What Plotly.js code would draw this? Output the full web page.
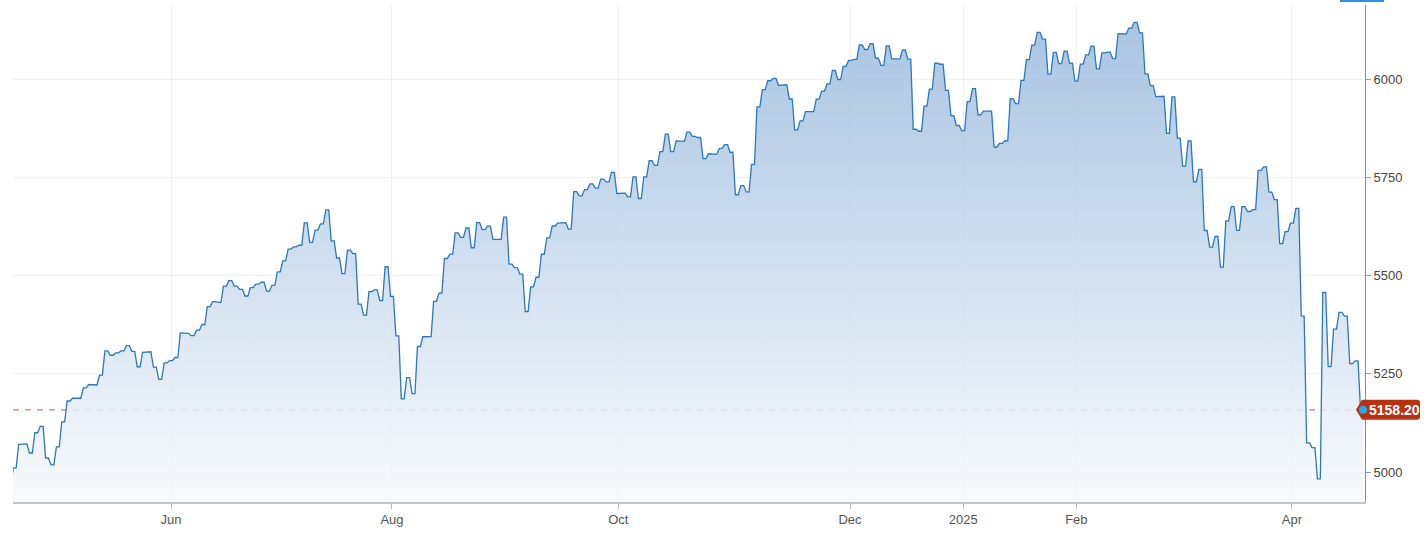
<!DOCTYPE html>
<html><head><meta charset="utf-8">
<script src="https://cdn.plot.ly/plotly-3.0.1.min.js"></script>
<style>html,body{margin:0;padding:0;background:#fff;}#chart{width:1426px;height:540px;}</style>
</head><body><div id="chart"></div>
<script>
// Trading days (S&P 500 daily closes)
const dates = [
"2024-04-19","2024-04-22","2024-04-23","2024-04-24","2024-04-25","2024-04-26","2024-04-29","2024-04-30",
"2024-05-01","2024-05-02","2024-05-03","2024-05-06","2024-05-07","2024-05-08","2024-05-09","2024-05-10","2024-05-13","2024-05-14","2024-05-15","2024-05-16","2024-05-17","2024-05-20","2024-05-21","2024-05-22","2024-05-23","2024-05-24","2024-05-28","2024-05-29","2024-05-30","2024-05-31",
"2024-06-03","2024-06-04","2024-06-05","2024-06-06","2024-06-07","2024-06-10","2024-06-11","2024-06-12","2024-06-13","2024-06-14","2024-06-17","2024-06-18","2024-06-20","2024-06-21","2024-06-24","2024-06-25","2024-06-26","2024-06-27","2024-06-28",
"2024-07-01","2024-07-02","2024-07-03","2024-07-05","2024-07-08","2024-07-09","2024-07-10","2024-07-11","2024-07-12","2024-07-15","2024-07-16","2024-07-17","2024-07-18","2024-07-19","2024-07-22","2024-07-23","2024-07-24","2024-07-25","2024-07-26","2024-07-29","2024-07-30","2024-07-31",
"2024-08-01","2024-08-02","2024-08-05","2024-08-06","2024-08-07","2024-08-08","2024-08-09","2024-08-12","2024-08-13","2024-08-14","2024-08-15","2024-08-16","2024-08-19","2024-08-20","2024-08-21","2024-08-22","2024-08-23","2024-08-26","2024-08-27","2024-08-28","2024-08-29","2024-08-30",
"2024-09-03","2024-09-04","2024-09-05","2024-09-06","2024-09-09","2024-09-10","2024-09-11","2024-09-12","2024-09-13","2024-09-16","2024-09-17","2024-09-18","2024-09-19","2024-09-20","2024-09-23","2024-09-24","2024-09-25","2024-09-26","2024-09-27","2024-09-30",
"2024-10-01","2024-10-02","2024-10-03","2024-10-04","2024-10-07","2024-10-08","2024-10-09","2024-10-10","2024-10-11","2024-10-14","2024-10-15","2024-10-16","2024-10-17","2024-10-18","2024-10-21","2024-10-22","2024-10-23","2024-10-24","2024-10-25","2024-10-28","2024-10-29","2024-10-30","2024-10-31",
"2024-11-01","2024-11-04","2024-11-05","2024-11-06","2024-11-07","2024-11-08","2024-11-11","2024-11-12","2024-11-13","2024-11-14","2024-11-15","2024-11-18","2024-11-19","2024-11-20","2024-11-21","2024-11-22","2024-11-25","2024-11-26","2024-11-27","2024-11-29",
"2024-12-02","2024-12-03","2024-12-04","2024-12-05","2024-12-06","2024-12-09","2024-12-10","2024-12-11","2024-12-12","2024-12-13","2024-12-16","2024-12-17","2024-12-18","2024-12-19","2024-12-20","2024-12-23","2024-12-24","2024-12-26","2024-12-27","2024-12-30","2024-12-31",
"2025-01-02","2025-01-03","2025-01-06","2025-01-07","2025-01-08","2025-01-09","2025-01-10","2025-01-13","2025-01-14","2025-01-15","2025-01-16","2025-01-17","2025-01-21","2025-01-22","2025-01-23","2025-01-24","2025-01-27","2025-01-28","2025-01-29","2025-01-30","2025-01-31",
"2025-02-03","2025-02-04","2025-02-05","2025-02-06","2025-02-07","2025-02-10","2025-02-11","2025-02-12","2025-02-13","2025-02-14","2025-02-18","2025-02-19","2025-02-20","2025-02-21","2025-02-24","2025-02-25","2025-02-26","2025-02-27","2025-02-28",
"2025-03-03","2025-03-04","2025-03-05","2025-03-06","2025-03-07","2025-03-10","2025-03-11","2025-03-12","2025-03-13","2025-03-14","2025-03-17","2025-03-18","2025-03-19","2025-03-20","2025-03-21","2025-03-24","2025-03-25","2025-03-26","2025-03-27","2025-03-28","2025-03-31",
"2025-04-01","2025-04-02","2025-04-03","2025-04-04","2025-04-07","2025-04-08","2025-04-09","2025-04-10","2025-04-11","2025-04-14","2025-04-15","2025-04-16","2025-04-17","2025-04-21"
];
const closes = [
4967.23,5010.60,5070.55,5071.63,5048.42,5099.96,5116.17,5035.69,
5018.39,5064.20,5127.79,5180.74,5187.70,5187.67,5214.08,5222.68,5221.42,5246.68,5308.15,5297.10,5303.27,5308.13,5321.41,5307.01,5267.84,5304.72,5306.04,5266.95,5235.48,5277.51,
5283.40,5291.34,5354.03,5352.96,5346.99,5360.79,5375.32,5421.03,5433.74,5431.60,5473.23,5487.03,5473.17,5464.62,5447.87,5469.30,5477.90,5482.87,5460.48,
5475.09,5509.01,5537.02,5567.19,5572.85,5576.98,5633.91,5584.54,5615.35,5631.22,5667.20,5588.27,5544.59,5505.00,5564.41,5555.74,5427.13,5399.22,5459.10,5463.54,5436.44,5522.30,
5446.68,5346.56,5186.33,5240.03,5199.50,5319.31,5344.16,5344.39,5434.43,5455.21,5543.22,5554.25,5608.25,5597.12,5620.85,5570.64,5634.61,5616.84,5625.80,5592.18,5591.96,5648.40,
5528.93,5520.07,5503.41,5408.42,5471.05,5495.52,5554.13,5595.76,5626.02,5633.09,5634.58,5618.26,5713.64,5702.55,5718.57,5732.93,5722.26,5745.37,5738.17,5762.48,
5708.75,5709.54,5699.94,5751.07,5695.94,5751.13,5792.04,5780.05,5815.03,5859.85,5815.26,5842.47,5841.47,5864.67,5853.98,5851.20,5797.42,5809.86,5808.12,5823.52,5832.92,5813.67,5705.45,
5728.80,5712.69,5782.76,5929.04,5973.10,5995.54,6001.35,5983.99,5985.38,5949.17,5870.62,5893.62,5916.98,5917.11,5948.71,5969.34,5987.37,6021.63,5998.74,6032.38,
6047.15,6049.88,6086.49,6075.11,6090.27,6052.85,6034.91,6084.19,6051.25,6051.09,6074.08,6050.61,5872.16,5867.08,5930.85,5974.07,6040.04,6037.59,5970.84,5906.94,5881.63,
5868.55,5942.47,5975.38,5909.03,5918.25,5918.25,5827.04,5836.22,5842.91,5949.91,5937.34,5996.66,6049.24,6086.37,6118.71,6101.24,6012.28,6067.70,6039.31,6071.17,6040.53,
5994.57,6037.88,6061.48,6083.57,6025.99,6066.44,6068.50,6051.97,6115.07,6114.63,6129.58,6144.15,6117.52,6013.13,5983.25,5955.25,5956.06,5861.57,5954.50,
5849.72,5778.15,5842.63,5738.52,5770.20,5614.56,5572.07,5599.30,5521.52,5638.94,5675.12,5614.66,5675.29,5662.89,5667.56,5767.57,5776.65,5712.20,5693.31,5580.94,5611.85,
5633.07,5670.97,5396.52,5074.08,5062.25,4982.77,5456.90,5268.05,5363.36,5405.97,5396.63,5275.70,5282.70,5158.20
];
const tickMonths = ["2024-06","2024-08","2024-10","2024-12","2025-01","2025-02","2025-04"];
const tickLabels = ["Jun","Aug","Oct","Dec","2025","Feb","Apr"];
const yTicks = [5000,5250,5500,5750,6000];
const lastLabel = "5158.20";

const FONT = "Liberation Sans, Arial, sans-serif";
const H = 0.27; // half-width of each day's flat step
const xs = [], ys = [];
closes.forEach((v, i) => { xs.push(i - H, i + H); ys.push(v, v); });
const tickvals = tickMonths.map(m => dates.findIndex(d => d.startsWith(m)));
const n = closes.length;
const last = closes[n - 1];
const xRange = [0.68, n - 1 + 0.56];
const yRange = [4923.7, 6188.3];
const lastPaperY = (last - yRange[0]) / (yRange[1] - yRange[0]);
const TAG = '#b9320f';

const traces = [
  {
    x: xs, y: ys, type: 'scatter', mode: 'lines',
    line: {color: '#2a78bd', width: 1.3},
    fill: 'tozeroy',
    fillgradient: {type: 'vertical', start: yRange[0], stop: yRange[1],
      colorscale: [[0, 'rgba(246,249,252,0.85)'], [1, 'rgba(150,184,220,0.85)']]},
    hoverinfo: 'skip'
  }
];

const layout = {
  width: 1426, height: 540,
  margin: {l: 13, r: 61, t: 5, b: 38},
  showlegend: false,
  paper_bgcolor: '#ffffff', plot_bgcolor: '#ffffff',
  font: {family: FONT, size: 13, color: '#555'},
  xaxis: {
    range: xRange, tickmode: 'array', tickvals: tickvals, ticktext: tickLabels,
    showgrid: true, gridcolor: '#efefef', gridwidth: 1,
    ticks: 'outside', ticklen: 5, tickcolor: '#b8b8b8',
    showline: true, linecolor: '#c4c4c4', linewidth: 1.5,
    zeroline: false, fixedrange: true,
    tickfont: {family: FONT, size: 13, color: '#555'}
  },
  yaxis: {
    side: 'right', range: yRange, tickmode: 'array', tickvals: yTicks,
    ticktext: yTicks.map(String),
    showgrid: true, gridcolor: '#efefef', gridwidth: 1,
    ticks: 'outside', ticklen: 5, tickcolor: '#999',
    showline: true, linecolor: '#8c8c8c', linewidth: 1,
    zeroline: false, fixedrange: true,
    tickfont: {family: FONT, size: 13, color: '#444'}
  },
  shapes: [
    {type: 'line', xref: 'paper', x0: 0, x1: 1, yref: 'y', y0: last, y1: last,
     line: {color: '#e5766a', width: 1.2, dash: '6px,6px'}, layer: 'below'},
    {type: 'path', xref: 'paper', yref: 'paper', xsizemode: 'pixel', ysizemode: 'pixel',
     xanchor: 1, yanchor: lastPaperY,
     path: 'M -9,0 L -3,10 L 52,10 Q 55,10 55,7 L 55,-7 Q 55,-10 52,-10 L -3,-10 Z',
     fillcolor: TAG, line: {width: 0}, layer: 'above'},
    {type: 'circle', xref: 'paper', yref: 'paper', xsizemode: 'pixel', ysizemode: 'pixel',
     xanchor: 1, yanchor: lastPaperY, x0: -6, x1: 2, y0: -4, y1: 4,
     fillcolor: '#25a8ef', line: {width: 0}, layer: 'above'},
    {type: 'rect', xref: 'paper', yref: 'paper', xsizemode: 'pixel', ysizemode: 'pixel',
     xanchor: 1, yanchor: 1, x0: -25, x1: 19, y0: 3, y1: 5,
     fillcolor: '#2f8ef0', line: {width: 0}, layer: 'above'}
  ],
  annotations: [
    {xref: 'paper', x: 1, xanchor: 'center', xshift: 29, yref: 'paper', y: lastPaperY, yanchor: 'middle',
     text: '<b>' + lastLabel + '</b>', showarrow: false,
     font: {family: FONT, size: 14, color: '#ffffff'}}
  ]
};

Plotly.newPlot('chart', traces, layout, {displayModeBar: false, staticPlot: true});
</script>
</body></html>
